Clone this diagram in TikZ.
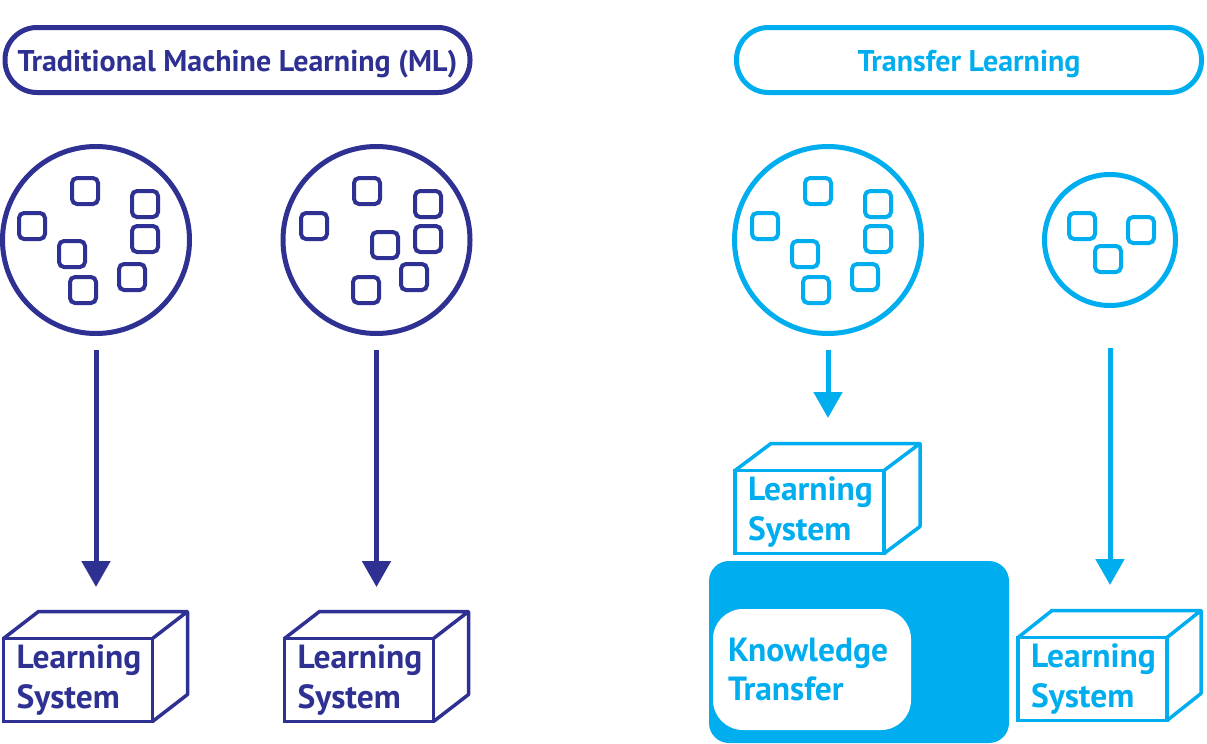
\documentclass[tikz,border=0pt]{standalone}
\usepackage{fontspec}
\setmainfont{PT Sans}
\usetikzlibrary{arrows.meta}
\definecolor{mlblue}{HTML}{2E3192}
\definecolor{tlblue}{HTML}{00AEEF}
\begin{document}
\begin{tikzpicture}[x=1pt,y=-1pt,
  font=\bfseries\fontsize{30}{40}\selectfont,
  pill/.style={draw, line width=5pt, rounded corners=32pt, minimum width=465pt, minimum height=65pt, inner sep=0pt,
    text height=22pt, text depth=0pt},
  disc/.style={draw, circle, line width=5pt, inner sep=0pt},
  sq/.style={draw, line width=4pt, rounded corners=5pt, minimum size=26pt, inner sep=0pt},
  boxfont/.style={font=\bfseries\fontsize{33.5}{39.5}\selectfont},
  front/.style={draw, line width=3.5pt, minimum width=149pt, minimum height=83pt, outer sep=0pt,
    text width=123pt, inner xsep=13pt, inner ysep=0pt, align=left, boxfont},
  depth/.style={line width=3.5pt, line join=round},
  arr/.style={line width=5pt, -{Triangle[width=28pt,length=26pt]}},
]
\useasboundingbox (0,0) rectangle (1207,744);

% headers
\node[pill, mlblue] (h1) at (237.5,60) {Traditional Machine Learning (ML)};
\node[pill, tlblue] (h2) at (969,60) {Transfer Learning};

% circles
\node[disc, mlblue, minimum size=187pt] (c1) at (96,240) {};
\node[disc, mlblue, minimum size=187pt] (c2) at (376.5,240) {};
\node[disc, tlblue, minimum size=187pt] (c3) at (828,240) {};
\node[disc, tlblue, minimum size=131pt] (c4) at (1110,240) {};

% squares in circle 1
\foreach \p [count=\i] in {(85,191),(32,226),(145,204),(145,239),(72,254),(132,277),(83,290)}
  \node[sq, mlblue] (s1-\i) at \p {};
% squares in circle 2
\foreach \p [count=\i] in {(367,191),(314,226),(428,204),(428,239),(385,245),(414,277),(366,290)}
  \node[sq, mlblue] (s2-\i) at \p {};
% squares in circle 3
\foreach \p [count=\i] in {(818,191),(765,226),(878,204),(878,239),(805,254),(865,277),(816,290)}
  \node[sq, tlblue] (s3-\i) at \p {};
% squares in circle 4
\foreach \p [count=\i] in {(1082,226),(1141,230),(1108,259)}
  \node[sq, tlblue] (s4-\i) at \p {};

% knowledge transfer
\node[fill=tlblue, rounded corners=20pt, minimum width=300pt, minimum height=182pt, inner sep=0pt] (kbox) at (859,652) {};
\node[fill=white, rounded corners=30pt, minimum width=198pt, minimum height=121pt, text width=168pt, inner xsep=15pt, inner ysep=0pt, align=left, text=tlblue, boxfont] (kt) at (812,669.5) {Knowledge\\Transfer};

% learning systems (cubes)
\node[front, mlblue] (b1) at (78,680) {Learning\\System};
\draw[depth, mlblue] (b1.north west) -- ++(35,-27) -- ++(149,0) -- ++(0,83) -- (b1.south east) (b1.north east) -- ++(35,-27);
\node[front, mlblue] (b2) at (359,680) {Learning\\System};
\draw[depth, mlblue] (b2.north west) -- ++(35,-27) -- ++(149,0) -- ++(0,83) -- (b2.south east) (b2.north east) -- ++(35,-27);
\node[front, tlblue] (b3) at (809.5,512) {Learning\\System};
\draw[depth, tlblue] (b3.north west) -- ++(36,-27) -- ++(149,0) -- ++(0,83) -- (b3.south east) (b3.north east) -- ++(36,-27);
\node[front, tlblue] (b4) at (1092.5,679) {Learning\\System};
\draw[depth, tlblue] (b4.north west) -- ++(34,-27) -- ++(149,0) -- ++(0,83) -- (b4.south east) (b4.north east) -- ++(34,-27);

% arrows
\coordinate (t1) at (96,587);
\coordinate (t2) at (376.5,587);
\coordinate (t3) at (828,418);
\coordinate (t4) at (1110,585);
\draw[arr, mlblue, shorten <=14pt] (c1) -- (t1);
\draw[arr, mlblue, shorten <=14pt] (c2) -- (t2);
\draw[arr, tlblue, shorten <=14pt] (c3) -- (t3);
\draw[arr, tlblue, shorten <=40pt] (c4) -- (t4);
\end{tikzpicture}
\end{document}
